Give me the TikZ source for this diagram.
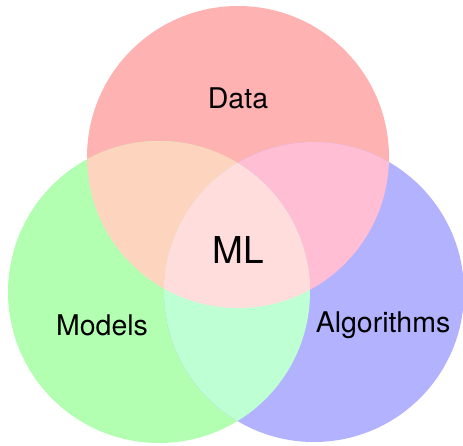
\documentclass[tikz,border=0pt]{standalone}
\usepackage{fontspec}
\setmainfont{TeX Gyre Heros}
\definecolor{dataRed}{RGB}{255,178,178}
\definecolor{modelGreen}{RGB}{178,255,178}
\definecolor{algoBlue}{RGB}{178,178,255}
\definecolor{dmPeach}{RGB}{253,212,190}
\definecolor{daPink}{RGB}{255,190,212}
\definecolor{maMint}{RGB}{190,255,212}
\definecolor{mlCenter}{RGB}{255,221,221}
\begin{document}
\begin{tikzpicture}[x=1pt,y=-1pt]
\tikzstyle{every node}+=[inner sep=0pt]
\tikzstyle{setlabel}=[anchor=base,font=\fontsize{28.5}{34}\selectfont]
\useasboundingbox (0,0) rectangle (463,445);
\coordinate (data) at (238,157);
\coordinate (models) at (159,292);
\coordinate (algos) at (314,292);
% the three sets
\fill [dataRed] (data) circle (151pt);
\fill [modelGreen] (models) circle (151pt);
\fill [algoBlue] (algos) circle (150pt);
% pairwise overlaps
\begin{scope}
\clip (data) circle (151pt);
\fill [dmPeach] (models) circle (151pt);
\fill [daPink] (algos) circle (150pt);
\end{scope}
\begin{scope}
\clip (models) circle (151pt);
\fill [maMint] (algos) circle (150pt);
\end{scope}
% centre, all three
\begin{scope}
\clip (data) circle (151pt);
\clip (models) circle (151pt);
\fill [mlCenter] (algos) circle (150pt);
\end{scope}
\node [setlabel] (dataLabel) at (238,108) {Data};
\node [setlabel] (modelsLabel) at (102,335) {Models};
\node [setlabel] (algosLabel) at (383,332) {Algorithms};
\node [setlabel,font=\fontsize{37}{44}\selectfont] (mlLabel) at (238,263) {ML};
\end{tikzpicture}
\end{document}
